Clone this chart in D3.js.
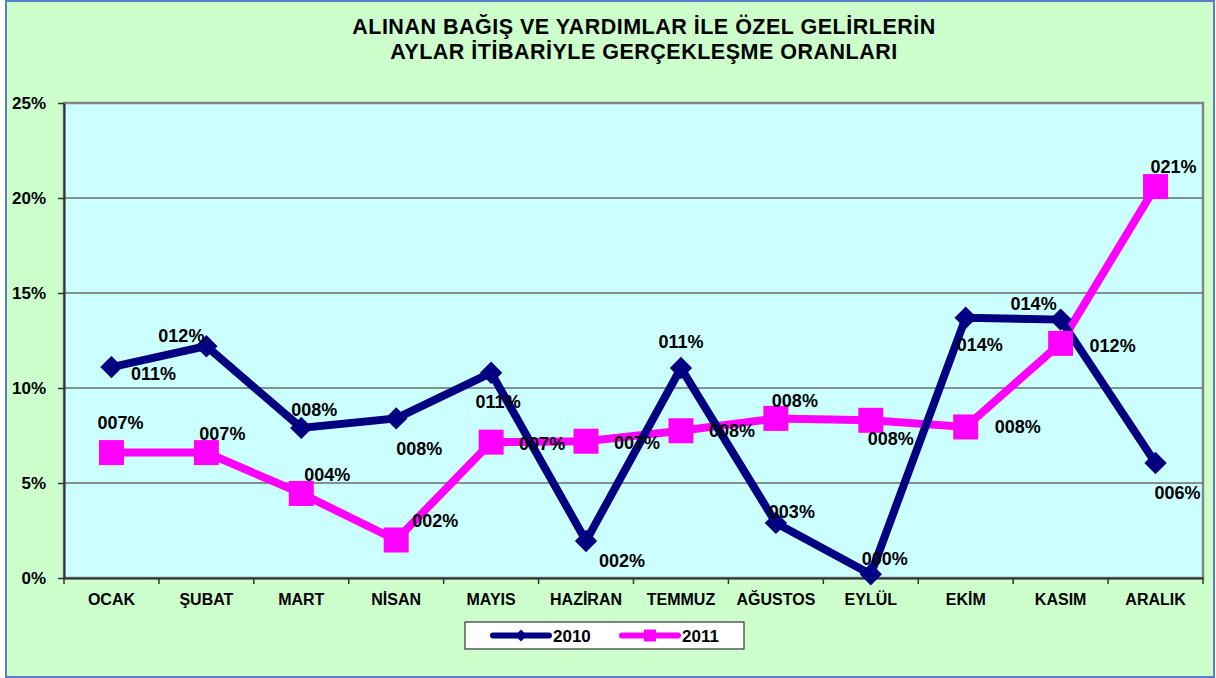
<!DOCTYPE html>
<html>
<head>
<meta charset="utf-8">
<script src="https://cdn.jsdelivr.net/npm/d3@7"></script>
<style>
  html, body { margin: 0; padding: 0; background: #fff; }
  svg { display: block; font-family: "Liberation Sans", Arial, sans-serif; }
</style>
</head>
<body>
<script>
// months on the x axis
const months = ["OCAK", "ŞUBAT", "MART", "NİSAN", "MAYIS", "HAZİRAN",
  "TEMMUZ", "AĞUSTOS", "EYLÜL", "EKİM", "KASIM", "ARALIK"];

// realisation rates (%) per month
const values2010 = [11.1, 12.2, 7.9, 8.4, 10.8, 1.95, 11.05, 2.9, 0.2, 13.7, 13.6, 6.05];
const values2011 = [6.6, 6.6, 4.45, 2.0, 7.15, 7.2, 7.75, 8.4, 8.3, 7.95, 12.35, 20.6];

const yTicks = [0, 5, 10, 15, 20, 25];
const titleLines = ["ALINAN BAĞIŞ VE YARDIMLAR İLE ÖZEL GELİRLERİN",
  "AYLAR İTİBARİYLE GERÇEKLEŞME ORANLARI"];

// where each data label sits relative to its point (like the hand-placed excel labels)
const labelOffsets2010 = [[42, 7], [-25, -11], [13, -18], [23, 30], [7, 29], [36, 20],
  [0, -26], [16, -11], [14, -16], [14, 27], [-27, -16], [22, 30]];
const labelOffsets2011 = [[9, -30], [16, -19], [26, -19], [39, -19], [51, 2], [51, 1],
  [51, 0], [19, -18], [20, 18], [52, 0], [52, 2], [18, -20]];

const width = 1216;
const height = 678;
const plot = { left: 64, right: 1203, top: 103, bottom: 578 };

const series = [
  { name: "2010", values: values2010, offsets: labelOffsets2010, color: "#000080", marker: "diamond" },
  { name: "2011", values: values2011, offsets: labelOffsets2011, color: "#FF00FF", marker: "square" }
];

const x = d3.scaleBand()
    .domain(months)
    .range([plot.left, plot.right])
    .padding(0);

const y = d3.scaleLinear()
    .domain([0, 25])
    .range([plot.bottom, plot.top]);

const cx = (m) => x(m) + x.bandwidth() / 2;

const svg = d3.select("body")
  .append("svg")
    .attr("width", width)
    .attr("height", height)
    .attr("viewBox", [0, 0, width, height]);

// chart area background and frame
svg.append("rect")
    .attr("x", 6).attr("y", 1)
    .attr("width", 1208).attr("height", 676)
    .attr("fill", "#CCFFCC")
    .attr("stroke", "#5B7FC9")
    .attr("stroke-width", 2);

// plot area
svg.append("rect")
    .attr("x", plot.left).attr("y", plot.top)
    .attr("width", plot.right - plot.left).attr("height", plot.bottom - plot.top)
    .attr("fill", "#CCFFFF")
    .attr("stroke", "#858585")
    .attr("stroke-width", 2.5);

// title
svg.append("g")
    .attr("font-weight", "bold")
    .attr("font-size", 21.5)
    .attr("letter-spacing", 0.5)
    .attr("text-anchor", "middle")
  .selectAll("text")
  .data(titleLines)
  .join("text")
    .attr("x", 644)
    .attr("y", (d, i) => 34 + i * 25)
    .text((d) => d);

// gridlines
svg.append("g")
  .selectAll("line")
  .data(yTicks.slice(1, -1))
  .join("line")
    .attr("x1", plot.left).attr("x2", plot.right)
    .attr("y1", (d) => y(d)).attr("y2", (d) => y(d))
    .attr("stroke", "#6b6b6b")
    .attr("stroke-width", 1.5);

// y axis
svg.append("g")
    .attr("transform", `translate(${plot.left},0)`)
    .call(d3.axisLeft(y).tickValues(yTicks).tickFormat((d) => d + "%").tickSize(6).tickSizeOuter(0).tickPadding(12))
    .call(g => g.select(".domain").attr("stroke", "#333").attr("stroke-width", 2))
    .call(g => g.selectAll(".tick line").attr("stroke", "#333").attr("stroke-width", 1.5))
    .call(g => g.selectAll(".tick text")
        .attr("fill", "#000")
        .attr("font-size", 17)
        .attr("font-weight", "bold")
        .attr("font-family", "Liberation Sans, Arial, sans-serif"));

// x axis, ticks at band boundaries
svg.append("g")
    .attr("transform", `translate(0,${plot.bottom})`)
    .call(d3.axisBottom(x).tickSize(0).tickPadding(16))
    .call(g => g.select(".domain").attr("stroke", "#333").attr("stroke-width", 2))
    .call(g => g.selectAll(".tick text")
        .attr("fill", "#000")
        .attr("font-size", 16)
        .attr("font-weight", "bold")
        .attr("font-family", "Liberation Sans, Arial, sans-serif"))
    .call(g => g.selectAll(".sep")
      .data(months.map((m) => x(m)).concat([plot.right]))
      .join("line")
        .attr("class", "sep")
        .attr("x1", (d) => d).attr("x2", (d) => d)
        .attr("y1", 0).attr("y2", 6)
        .attr("stroke", "#333")
        .attr("stroke-width", 1.5));

const line = d3.line()
    .x((d, i) => cx(months[i]))
    .y((d) => y(d));

// lines: 2011 underneath, 2010 on top
svg.append("g")
  .selectAll("path")
  .data([series[1], series[0]])
  .join("path")
    .attr("d", (s) => line(s.values))
    .attr("fill", "none")
    .attr("stroke", (s) => s.color)
    .attr("stroke-width", 8)
    .attr("stroke-linejoin", "miter");

const diamond = d3.symbol().type(d3.symbolSquare).size(250);

function drawMarkers(g, s, px, py) {
  if (s.marker === "diamond") {
    g.append("path")
        .attr("d", diamond())
        .attr("transform", `translate(${px},${py}) rotate(45)`)
        .attr("fill", s.color);
  } else {
    g.append("rect")
        .attr("x", px - 12.5).attr("y", py - 12.5)
        .attr("width", 25).attr("height", 25)
        .attr("fill", s.color);
  }
}

// markers
series.forEach((s) => {
  const g = svg.append("g");
  s.values.forEach((v, i) => drawMarkers(g, s, cx(months[i]), y(v)));
});

// data labels, excel "000%" style
const fmt = (v) => String(Math.round(v)).padStart(3, "0") + "%";
series.forEach((s) => {
  svg.append("g")
      .attr("font-size", 18)
      .attr("font-weight", "bold")
      .attr("text-anchor", "middle")
    .selectAll("text")
    .data(s.values)
    .join("text")
      .attr("x", (d, i) => cx(months[i]) + s.offsets[i][0])
      .attr("y", (d, i) => y(d) + s.offsets[i][1])
      .attr("dy", "0.35em")
      .text((d) => fmt(d));
});

// legend
const legend = svg.append("g");
legend.append("rect")
    .attr("x", 465).attr("y", 622)
    .attr("width", 279).attr("height", 27)
    .attr("fill", "#fff")
    .attr("stroke", "#333")
    .attr("stroke-width", 1.2);

series.forEach((s, i) => {
  const lx = 493 + i * 129;
  const g = legend.append("g");
  g.append("line")
      .attr("x1", lx).attr("x2", lx + 56)
      .attr("y1", 635.5).attr("y2", 635.5)
      .attr("stroke", s.color)
      .attr("stroke-width", 6)
      .attr("stroke-linecap", "round");
  if (s.marker === "diamond") {
    g.append("path")
        .attr("d", d3.symbol().type(d3.symbolSquare).size(70)())
        .attr("transform", `translate(${lx + 28},635.5) rotate(45)`)
        .attr("fill", s.color);
  } else {
    g.append("rect")
        .attr("x", lx + 22).attr("y", 629.5)
        .attr("width", 12).attr("height", 12)
        .attr("fill", s.color);
  }
  g.append("text")
      .attr("x", lx + 60)
      .attr("y", 641.5)
      .attr("font-size", 17)
      .attr("font-weight", "bold")
      .text(s.name);
});
</script>
</body>
</html>
